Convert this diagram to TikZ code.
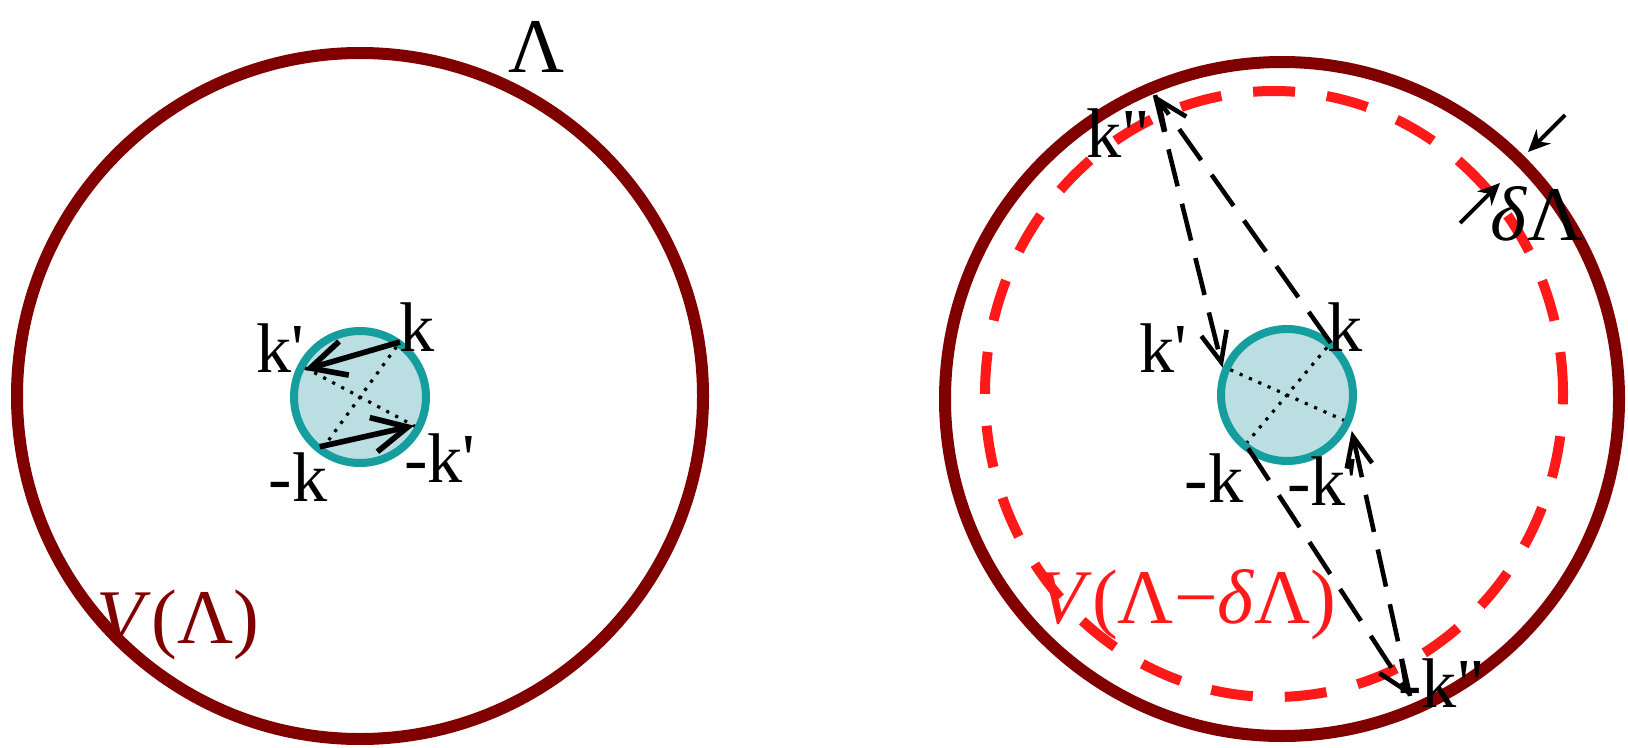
\documentclass[tikz,border=0pt]{standalone}
\usepackage{fontspec}
\setmainfont{Liberation Serif}
\usetikzlibrary{arrows.meta}
\definecolor{cutoff}{RGB}{128,0,0}
\definecolor{shell}{RGB}{255,25,25}
\definecolor{ballline}{RGB}{22,158,158}
\definecolor{ballfill}{RGB}{186,222,226}
\begin{document}
\begin{tikzpicture}[
  klab/.style={font=\fontsize{20}{24}\selectfont, inner sep=0pt},
  glab/.style={font=\fontsize{22}{26}\selectfont, inner sep=0pt},
  ball/.style={draw=ballline, fill=ballfill, line width=0.08cm},
  kvec/.style={line width=1.6pt, -{Straight Barb[length=3.5mm,width=3.5mm,line width=1.6pt]}},
  kjump/.style={line width=1.3pt, dash pattern=on 0.38cm off 0.18cm, -{Straight Barb[length=3mm,width=2.6mm,line width=1.3pt]}},
  dline/.style={line width=1.1pt, -{Stealth[length=2.2mm,width=2mm]}}
]
\useasboundingbox (0,0) rectangle (16.28,7.47);

% left: full sphere
\coordinate (Lo) at (3.60,3.51);
\coordinate (Lc) at (3.60,3.50);
\draw[cutoff, line width=0.12cm] (Lo) circle (3.43);
\draw[ball] (Lc) circle (0.66);
\coordinate (Lk) at ([shift={(54:0.68)}]Lc);
\coordinate (Lkp) at ([shift={(154:0.62)}]Lc);
\coordinate (Lmk) at ([shift={(231:0.64)}]Lc);
\coordinate (Lmkp) at ([shift={(332:0.61)}]Lc);
\draw[dotted, line width=0.9pt] ([shift={(54:0.62)}]Lc) -- ([shift={(234:0.62)}]Lc);
\draw[dotted, line width=0.9pt] ([shift={(152:0.62)}]Lc) -- ([shift={(332:0.62)}]Lc);
\draw[kvec] (Lk) -- (Lkp);
\draw[kvec] (Lmk) -- (Lmkp);
\node[klab] (lk) at (4.17,4.20) {k};
\node[klab] (lkp) at (2.80,3.99) {k\textquotesingle};
\node[klab] (lmk) at (2.98,2.70) {-k};
\node[klab] (lmkp) at (4.40,2.89) {-k\textquotesingle};
\node[glab] (lam) at (5.37,7.00) {Λ};
\node[glab, text=cutoff] (vol) at (1.78,1.22) {\textit{V}(Λ)};

% right: shell between the two cut-offs
\coordinate (Ro) at (12.82,3.48);
\coordinate (Rc) at (12.87,3.52);
\draw[cutoff, line width=0.12cm] (Ro) circle (3.37);
\draw[shell, line width=0.1cm, dash pattern=on 0.42cm off 0.32cm] (12.74,3.53) ellipse (2.89 and 3.03);
\draw[ball] (Rc) circle (0.66);
\draw[dotted, line width=0.9pt] ([shift={(50:0.62)}]Rc) -- ([shift={(230:0.62)}]Rc);
\draw[dotted, line width=0.9pt] ([shift={(156:0.62)}]Rc) -- ([shift={(336:0.62)}]Rc);
\coordinate (Rk) at ([shift={(50:0.68)}]Rc);
\coordinate (Rkp) at ([shift={(157:0.70)}]Rc);
\coordinate (Rmk) at ([shift={(234:0.66)}]Rc);
\coordinate (Rmkp) at ([shift={(331:0.74)}]Rc);
\coordinate (Rkpp) at (11.55,6.52);
\coordinate (Rmkpp) at (14.10,0.51);
\draw[kjump] (Rk) -- (Rkpp);
\draw[kjump] (Rkpp) -- (Rkp);
\draw[kjump] (Rmk) -- (Rmkpp);
\draw[kjump] (Rmkpp) -- (Rmkp);
\node[klab] (rk) at (13.45,4.20) {k};
\node[klab] (rkp) at (11.63,3.99) {k\textquotesingle};
\node[klab] (rmk) at (12.14,2.69) {-k};
\node[klab] (rmkp) at (13.23,2.66) {-k\textquotesingle};
\node[klab] (rkpp) at (11.18,6.14) {k\textquotedbl};
\node[klab] (rmkpp) at (14.42,0.64) {-k\textquotedbl};
\node[glab, text=shell] (shellvol) at (11.87,1.42) {\textit{V}(Λ−\textit{δ}Λ)};
\node[glab] (dlam) at (15.37,5.33) {\textit{δ}Λ};
\coordinate (out1) at (15.65,6.32);
\coordinate (out2) at (15.28,5.95);
\coordinate (in1) at (14.60,5.24);
\coordinate (in2) at (15.00,5.64);
\draw[dline] (out1) -- (out2);
\draw[dline] (in1) -- (in2);
\end{tikzpicture}
\end{document}
